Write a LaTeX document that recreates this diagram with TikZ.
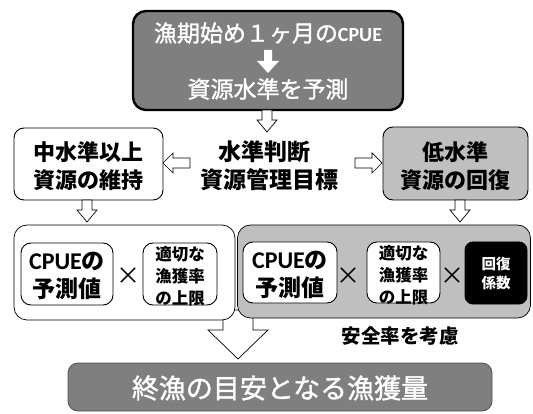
\documentclass[tikz,border=0pt]{standalone}
\usepackage{fontspec}
\setmainfont{Noto Sans CJK JP}
\newfontfamily\latinf{Carlito}
\newfontfamily\medf[FakeBold=1.3]{Noto Sans CJK JP}
\definecolor{midgray}{RGB}{127,127,127}
\definecolor{lightgray2}{RGB}{191,191,191}
\definecolor{edgegray}{RGB}{80,80,80}
\newcommand\blkdown[6]{% x, ytop, ytip, shaft half, head half, head length
  \draw[hollow] (#1-#4,#2) -- (#1+#4,#2) -- (#1+#4,#3-#6) -- (#1+#5,#3-#6) -- (#1,#3)
    -- (#1-#5,#3-#6) -- (#1-#4,#3-#6) -- cycle;}
\newcommand\blkleft[6]{% y, xtail, xtip, shaft half, head half, head length
  \draw[hollow] (#2,#1-#4) -- (#2,#1+#4) -- (#3+#6,#1+#4) -- (#3+#6,#1+#5) -- (#3,#1)
    -- (#3+#6,#1-#5) -- (#3+#6,#1-#4) -- cycle;}
\newcommand\blkright[6]{% y, xtail, xtip, shaft half, head half, head length
  \draw[hollow] (#2,#1-#4) -- (#2,#1+#4) -- (#3-#6,#1+#4) -- (#3-#6,#1+#5) -- (#3,#1)
    -- (#3-#6,#1-#5) -- (#3-#6,#1-#4) -- cycle;}
\tikzset{
  hollow/.style={draw=black, fill=white, line width=0.7pt, line join=miter},
  box/.style={draw=black, fill=white, line width=0.9pt, rounded corners=10pt, inner sep=0pt},
  txt/.style={align=center, inner sep=0pt, font=\bfseries},
}
\begin{document}
\begin{tikzpicture}[x=1pt,y=-1pt]
\useasboundingbox (0,0) rectangle (533,414);
% top box
\node[box, fill=midgray, line width=2.4pt, rounded corners=13pt, minimum width=270pt, minimum height=99pt] (top) at (268,60.5) {};
\node[txt, text=white, font=\medf\fontsize{23}{23}\selectfont] (t1) at (268,33) {漁期始め１ヶ月の{\latinf\bfseries\fontsize{20}{20}\selectfont CPUE}};
\node[txt, text=white, font=\medf\fontsize{23}{23}\selectfont] (t2) at (268,89) {資源水準を予測};
\fill[white] (264,50) -- (272,50) -- (272,61) -- (279,61) -- (268,73) -- (257,61) -- (264,61) -- cycle;
\blkdown{267}{110}{132}{5}{10}{12}
% middle row
\node[box, minimum width=149pt, minimum height=72pt] (lb) at (88.5,164) {};
\node[txt, font=\bfseries\fontsize{22}{28}\selectfont] (lbt) at (88.5,166) {中水準以上\\資源の維持};
\node[box, fill=lightgray2, minimum width=145pt, minimum height=73pt] (rb) at (455.5,163.5) {};
\node[txt, font=\bfseries\fontsize{22}{28}\selectfont] (rbt) at (455.5,166) {低水準\\資源の回復};
\node[txt, font=\bfseries\fontsize{23}{23}\selectfont] (c1) at (264,152) {水準判断};
\node[txt, font=\bfseries\fontsize{23}{23}\selectfont] (c2) at (269,180) {資源管理目標};
\blkleft{163}{190}{163}{5}{10}{10}
\blkright{163}{355}{382}{5}{10}{10}
\blkdown{87}{200}{222}{5}{10}{12}
\blkdown{460}{200}{222}{5}{10}{12}
% big arrow (behind lower boxes)
\blkdown{238}{310}{359}{15}{30}{29}
% lower left panel
\node[box, line width=0.7pt, rounded corners=13pt, minimum width=221pt, minimum height=95pt] (lp) at (124.5,272.5) {};
\node[box, minimum width=92pt, minimum height=62pt] (l1) at (67,274) {};
\node[txt, font=\bfseries\fontsize{23}{28}\selectfont] at (67,276) {{\latinf\bfseries\fontsize{24}{24}\selectfont CPUE}の\\予測値};
\node[inner sep=0pt, font=\fontsize{24}{24}\selectfont] (lx) at (128,276) {×};
\node[box, minimum width=74pt, minimum height=62pt] (l2) at (180,274) {};
\node[txt, font=\bfseries\fontsize{16.5}{22}\selectfont] at (180,276) {適切な\\漁獲率\\の上限};
% lower right panel
\node[box, fill=lightgray2, line width=0.7pt, rounded corners=13pt, minimum width=293pt, minimum height=93pt] (rp) at (384,271.5) {};
\node[box, minimum width=94pt, minimum height=61pt] (r1) at (290,272.5) {};
\node[txt, font=\bfseries\fontsize{23}{28}\selectfont] at (290,275) {{\latinf\bfseries\fontsize{24}{24}\selectfont CPUE}の\\予測値};
\node[inner sep=0pt, font=\fontsize{24}{24}\selectfont] (rx1) at (348,276) {×};
\node[box, minimum width=73pt, minimum height=61pt] (r2) at (403.5,272.5) {};
\node[txt, font=\bfseries\fontsize{16.5}{22}\selectfont] at (403.5,275) {適切な\\漁獲率\\の上限};
\node[inner sep=0pt, font=\fontsize{24}{24}\selectfont] (rx2) at (452,276) {×};
\node[box, fill=black, rounded corners=8pt, minimum width=62pt, minimum height=62pt] (r3) at (496,273) {};
\node[txt, text=white, font=\bfseries\fontsize{14.5}{19}\selectfont] at (496,274) {回復\\係数};
\node[txt, font=\bfseries\fontsize{19.5}{19.5}\selectfont] (safe) at (400,336) {安全率を考慮};
% bottom box
\node[box, fill=midgray, draw=edgegray, line width=0.8pt, rounded corners=10pt, minimum width=424pt, minimum height=48pt] (bot) at (280,387) {};
\node[txt, text=white, font=\medf\fontsize{27}{27}\selectfont] (bt) at (280,388) {終漁の目安となる漁獲量};
\end{tikzpicture}
\end{document}
